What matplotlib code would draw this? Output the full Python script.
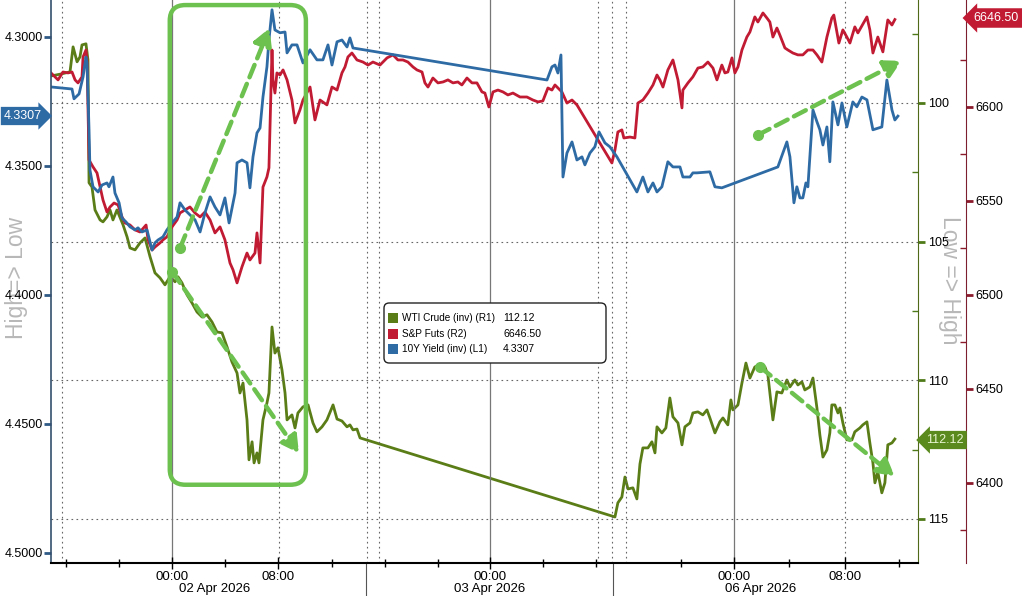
import matplotlib.pyplot as plt
from matplotlib.patches import FancyBboxPatch, Rectangle
from matplotlib.ticker import FixedLocator, FormatStrFormatter
import matplotlib.transforms as mtransforms
from matplotlib import font_manager

# x values are trading hours from 02 Apr 2026 00:00 (gaps compressed)
yld_h = [-9.10, -7.52, -7.37, -6.99, -6.69, -6.47, -6.39, -6.24, -6.17, -5.94, -5.56, -5.26, -4.89, -4.74, -4.44,
         -4.29, -3.98, -3.76, -3.46, -3.16, -2.78, -2.56, -2.26, -1.88, -1.50, -1.28, -1.05, -0.68, -0.38, 0.0,
         0.38, 0.60, 0.98, 1.35, 1.73, 2.11, 2.48, 2.86, 3.23, 3.61, 3.98, 4.29, 4.74, 4.89, 5.26, 5.64, 5.86,
         6.09, 6.39, 6.62, 6.84, 7.14, 7.29, 7.52, 7.74, 8.12, 8.50, 8.65, 9.02, 9.40, 9.85, 10.38, 10.90, 11.35,
         11.73, 12.03, 12.41, 12.78, 13.16, 13.38, 13.61, 28.20, 28.57, 28.80, 29.02, 29.25, 29.40, 29.70, 30.08,
         30.45, 30.83, 31.05, 31.43, 31.80, 32.11, 32.56, 32.93, 33.46, 34.96, 35.41, 35.79, 36.17, 36.47, 36.84,
         37.29, 37.67, 38.20, 38.42, 38.95, 39.17, 39.47, 40.45, 40.83, 41.35, 45.56, 46.24, 46.47, 46.77, 46.99,
         47.22, 47.44, 47.67, 47.82, 48.20, 48.50, 48.72, 48.95, 49.25, 49.47, 49.70, 50.08, 50.38, 50.75, 51.20,
         51.50, 51.88, 52.26, 52.71, 53.38, 53.76, 54.14, 54.36, 54.59]
yld = [4.3194, 4.3202, 4.3240, 4.3221, 4.3155, 4.3078, 4.3101, 4.3360, 4.3516, 4.3581, 4.3601, 4.3574, 4.3566,
       4.3581, 4.3543, 4.3605, 4.3643, 4.3702, 4.3717, 4.3736, 4.3748, 4.3740, 4.3756, 4.3748, 4.3826, 4.3798,
       4.3787, 4.3775, 4.3748, 4.3721, 4.3698, 4.3643, 4.3671, 4.3690, 4.3709, 4.3756, 4.3682, 4.3620, 4.3659,
       4.3690, 4.3624, 4.3721, 4.3605, 4.3488, 4.3477, 4.3488, 4.3585, 4.3465, 4.3372, 4.3353, 4.3233, 4.3116,
       4.3012, 4.2895, 4.2973, 4.2984, 4.2981, 4.3062, 4.3031, 4.3031, 4.3101, 4.3050, 4.3089, 4.3089, 4.3031,
       4.3109, 4.3019, 4.3012, 4.3039, 4.3004, 4.3043, 4.3167, 4.3116, 4.3109, 4.3140, 4.3070, 4.3543, 4.3450,
       4.3407, 4.3477, 4.3465, 4.3496, 4.3450, 4.3426, 4.3368, 4.3411, 4.3426, 4.3465, 4.3601, 4.3543, 4.3601,
       4.3566, 4.3601, 4.3581, 4.3484, 4.3504, 4.3504, 4.3543, 4.3543, 4.3527, 4.3527, 4.3523, 4.3581, 4.3585,
       4.3504, 4.3407, 4.3465, 4.3643, 4.3581, 4.3624, 4.3624, 4.3566, 4.3581, 4.3283, 4.3329, 4.3360, 4.3419,
       4.3349, 4.3484, 4.3252, 4.3341, 4.3256, 4.3349, 4.3252, 4.3271, 4.3233, 4.3244, 4.3360, 4.3349, 4.3167,
       4.3283, 4.3322, 4.3307]

spx_h = [-9.10, -8.80, -8.57, -8.20, -7.82, -7.52, -7.29, -7.07, -6.77, -6.69, -6.47, -6.39, -6.24, -5.94, -5.64,
         -5.41, -5.19, -4.89, -4.66, -4.36, -4.06, -3.76, -3.53, -3.16, -2.78, -2.41, -1.95, -1.80, -1.50, -1.28,
         -0.90, -0.68, -0.38, 0.0, 0.38, 0.60, 0.98, 1.35, 1.73, 2.11, 2.48, 2.86, 3.23, 3.61, 3.98, 4.36, 4.59,
         4.89, 5.26, 5.64, 5.86, 6.24, 6.39, 6.62, 6.84, 7.14, 7.29, 7.52, 7.59, 7.74, 7.89, 8.12, 8.35, 8.65,
         9.02, 9.25, 9.62, 9.85, 10.38, 10.75, 11.13, 11.65, 12.03, 12.41, 12.78, 13.01, 13.23, 13.53, 13.91,
         14.36, 14.74, 15.11, 15.64, 16.17, 16.62, 16.99, 17.37, 17.74, 18.12, 18.42, 18.80, 19.02, 19.25, 19.62,
         20.00, 20.38, 20.75, 21.13, 21.50, 21.80, 22.18, 22.56, 22.93, 23.31, 23.53, 23.83, 24.14, 24.51, 24.89,
         25.26, 25.64, 26.17, 26.69, 27.14, 27.52, 27.89, 28.27, 28.57, 28.80, 29.02, 29.32, 29.70, 30.08, 30.45,
         33.08, 33.31, 33.53, 33.83, 33.98, 34.44, 34.81, 35.04, 35.41, 35.79, 36.17, 36.47, 36.69, 36.92, 37.29,
         37.67, 38.05, 38.35, 38.42, 38.80, 39.17, 39.55, 39.92, 40.30, 40.68, 40.98, 41.35, 41.58, 41.80, 42.11,
         42.33, 42.56, 42.86, 43.23, 43.46, 43.83, 44.06, 44.44, 44.74, 44.96, 45.19, 45.49, 45.71, 46.09, 46.32,
         46.69, 47.07, 47.44, 47.82, 48.20, 48.50, 48.87, 49.25, 49.62, 49.77, 50.00, 50.15, 50.45, 50.75, 50.98,
         51.35, 51.58, 52.26, 52.48, 52.71, 53.08, 53.46, 53.83, 54.14, 54.36]
spx = [6618.1, 6616.0, 6614.4, 6618.6, 6618.1, 6618.6, 6614.4, 6612.8, 6616.0, 6626.6, 6630.3, 6625.0, 6571.8,
       6568.1, 6564.9, 6557.4, 6550.5, 6544.1, 6546.8, 6548.9, 6547.9, 6541.5, 6538.3, 6537.2, 6534.6, 6533.5,
       6537.2, 6529.3, 6523.9, 6525.5, 6527.7, 6529.3, 6530.9, 6536.2, 6539.9, 6543.6, 6545.2, 6546.8, 6543.6,
       6541.5, 6544.1, 6539.9, 6533.0, 6536.2, 6529.3, 6517.0, 6513.3, 6506.4, 6514.9, 6522.3, 6518.6, 6522.3,
       6533.0, 6517.0, 6557.4, 6562.8, 6567.6, 6630.3, 6614.4, 6607.4, 6618.1, 6617.0, 6619.7, 6614.4, 6603.7,
       6591.5, 6598.4, 6603.7, 6610.6, 6593.1, 6603.7, 6601.1, 6610.6, 6609.0, 6618.1, 6621.3, 6626.6, 6628.7,
       6625.0, 6623.9, 6622.3, 6623.9, 6622.3, 6626.1, 6627.7, 6625.0, 6625.0, 6623.9, 6621.3, 6619.7, 6618.6,
       6612.8, 6610.6, 6615.4, 6612.8, 6613.3, 6614.4, 6612.8, 6613.3, 6611.7, 6615.4, 6612.8, 6612.8, 6608.0,
       6607.4, 6600.0, 6608.0, 6609.0, 6608.0, 6606.4, 6607.4, 6605.3, 6605.3, 6603.7, 6602.7, 6603.2, 6610.1,
       6609.0, 6611.7, 6610.1, 6608.0, 6602.1, 6603.7, 6601.1, 6570.2, 6577.1, 6586.7, 6587.8, 6583.5, 6584.0,
       6583.5, 6602.1, 6603.7, 6607.4, 6611.7, 6617.0, 6614.4, 6610.6, 6619.7, 6625.0, 6614.4, 6599.5, 6609.0,
       6612.8, 6616.0, 6620.7, 6621.3, 6623.9, 6620.7, 6614.4, 6622.3, 6618.1, 6618.6, 6626.1, 6618.1, 6621.3,
       6630.3, 6637.2, 6639.9, 6647.9, 6645.2, 6650.0, 6647.3, 6645.2, 6637.2, 6642.0, 6638.3, 6631.4, 6630.3,
       6628.7, 6627.7, 6627.7, 6630.3, 6630.3, 6627.7, 6623.9, 6637.2, 6647.3, 6648.9, 6639.9, 6634.0, 6641.0,
       6637.2, 6634.0, 6642.6, 6639.4, 6647.9, 6641.0, 6628.7, 6637.2, 6629.3, 6646.3, 6643.6, 6646.5]

wti_h = [-9.10, -8.27, -7.67, -7.44, -7.14, -6.92, -6.77, -6.47, -6.32, -6.24, -6.02, -5.79, -5.41, -5.19, -4.89,
         -4.66, -4.44, -4.14, -3.68, -3.38, -3.16, -2.78, -2.41, -2.03, -1.65, -1.28, -0.90, -0.53, -0.15, 0.23,
         0.45, 0.75, 1.13, 1.50, 1.88, 2.26, 2.63, 3.01, 3.38, 3.76, 4.14, 4.51, 4.89, 5.11, 5.34, 5.64, 5.79,
         6.02, 6.17, 6.39, 6.54, 6.84, 7.14, 7.29, 7.52, 7.74, 7.97, 8.27, 8.50, 8.65, 9.02, 9.25, 9.47, 9.85,
         10.23, 10.60, 10.90, 11.28, 11.65, 12.11, 12.41, 12.78, 13.16, 13.38, 13.61, 13.91, 14.14, 33.31, 33.53,
         33.83, 34.06, 34.29, 34.66, 34.96, 35.19, 35.41, 35.79, 36.09, 36.32, 36.47, 36.84, 37.14, 37.44, 37.67,
         38.05, 38.35, 38.57, 38.95, 39.17, 39.55, 39.92, 40.23, 40.45, 40.83, 41.20, 41.43, 41.80, 42.03, 42.18,
         42.56, 42.86, 43.16, 43.46, 43.83, 44.21, 44.59, 44.81, 45.19, 45.49, 45.86, 46.24, 46.47, 46.84, 47.07,
         47.37, 47.59, 47.97, 48.20, 48.50, 48.72, 48.95, 49.25, 49.47, 49.62, 49.85, 50.08, 50.23, 50.45, 50.75,
         51.13, 51.35, 51.73, 51.95, 52.26, 52.48, 52.71, 52.86, 53.08, 53.38, 53.61, 53.83, 54.14, 54.36]
wti = [99.03, 98.95, 98.88, 97.98, 98.52, 98.34, 97.91, 97.87, 98.45, 102.88, 103.03, 103.86, 104.22, 104.29,
       104.11, 103.86, 104.22, 103.86, 104.40, 104.83, 105.23, 105.30, 105.05, 104.87, 105.55, 106.13, 106.31,
       106.56, 106.27, 106.45, 106.27, 106.49, 106.92, 107.21, 107.54, 107.72, 107.64, 107.90, 108.26, 108.29,
       108.80, 109.34, 109.74, 110.46, 110.10, 111.43, 112.87, 112.22, 112.98, 112.62, 112.98, 111.43, 110.82,
       110.46, 108.08, 109.02, 108.83, 109.63, 110.46, 111.43, 111.25, 111.72, 111.18, 110.96, 110.89, 111.54,
       111.86, 111.68, 111.43, 110.89, 111.40, 111.47, 111.68, 111.61, 111.79, 111.76, 112.08, 114.93, 114.42,
       114.21, 113.49, 113.92, 113.88, 114.28, 113.02, 112.44, 112.44, 112.22, 112.62, 111.68, 111.90, 111.72,
       110.64, 111.32, 111.54, 112.33, 111.68, 111.54, 111.18, 111.14, 111.25, 111.07, 111.36, 111.90, 111.50,
       111.36, 111.61, 110.71, 111.07, 110.89, 110.10, 109.38, 109.92, 109.52, 109.45, 109.52, 109.81, 111.43,
       110.42, 110.46, 109.99, 110.24, 109.99, 110.17, 110.06, 110.35, 110.24, 109.92, 111.00, 111.97, 112.77,
       112.51, 111.90, 110.89, 110.89, 111.18, 111.00, 111.54, 112.15, 112.15, 111.86, 111.72, 111.61, 111.50,
       112.26, 112.98, 113.70, 113.31, 114.06, 113.70, 112.33, 112.26, 112.12]

names = ["WTI Crude (inv) (R1)", "S&P Futs (R2)", "10Y Yield (inv) (L1)"]
last = ["112.12", "6646.50", "4.3307"]

day_starts = [0.0, 23.9, 42.3]
session_marks = [-8.27, 8.05, 14.66, 15.56, 32.03, 33.08, 34.14, 50.6]
major_x = [0.0, 8.0, 23.9, 42.3, 50.6]
major_lbl = ["00:00", "08:00", "00:00", "00:00", "08:00"]
minor_x = [-8, -4, 4, 12, 16, 20, 27.9, 31.9, 38.3, 46.4, 54.7]
dates = ["02 Apr 2026", "03 Apr 2026", "06 Apr 2026"]
date_x = [3.23, 23.9, 44.3]
date_seps = [14.6, 33.2]

C_WTI = "#5b7d17"
C_SPX = "#c11a33"
C_YLD = "#2e6ba5"
C_ANN = "#6cc14f"

installed = {f.name for f in font_manager.fontManager.ttflist}
base = "Liberation Sans" if "Liberation Sans" in installed else "DejaVu Sans"
narrow = ["Liberation Sans Narrow", base] if "Liberation Sans Narrow" in installed else [base]
plt.rcParams["font.family"] = [base, "DejaVu Sans"]

fig = plt.figure(figsize=(10.22, 5.96), dpi=100)
ax = fig.add_axes([51/1022, 33/596, 867/1022, 563/596])
axw = ax.twinx()
axs = ax.twinx()
axw.set_zorder(1)
axs.set_zorder(2)
ax.set_zorder(3)
ax.patch.set_visible(False)
axs.patch.set_visible(False)

axw.plot(wti_h, wti, color=C_WTI, lw=2.0)
axs.plot(spx_h, spx, color=C_SPX, lw=2.0)
ax.plot(yld_h, yld, color=C_YLD, lw=2.0)

ax.set_xlim(-9.1, 56.1)
ax.set_ylim(4.5039, 4.2857)
axw.set_ylim(116.59, 96.29)
axs.set_ylim(6357.4, 6656.9)

# grid
for v in [100, 105, 110, 115]:
    axw.axhline(v, color="#666666", ls=(0, (1.5, 3)), lw=0.8)
for h in session_marks:
    axw.axvline(h, color="#666666", ls=(0, (1.5, 3)), lw=0.8)
for h in day_starts:
    axw.axvline(h, color="#777777", lw=0.9)

# spines
for a in (ax, axw, axs):
    a.spines["top"].set_visible(False)
ax.spines["right"].set_visible(False)
ax.spines["left"].set_color("#35506e")
ax.spines["left"].set_linewidth(1.2)
ax.spines["bottom"].set_color("black")
ax.spines["bottom"].set_linewidth(1.5)
for a in (axw, axs):
    a.spines["left"].set_visible(False)
    a.spines["bottom"].set_visible(False)
axw.spines["right"].set_color("#4f6b1a")
axs.spines["right"].set_color("#7d1f2e")
axs.spines["right"].set_position(("outward", 34.6))

# y ticks
ax.set_yticks([4.30, 4.35, 4.40, 4.45, 4.50])
ax.yaxis.set_major_formatter(FormatStrFormatter("%.4f"))
ax.tick_params(axis="y", length=5, width=2, color="#2f5a86", labelsize=9, pad=1)
axw.set_yticks([100, 105, 110, 115])
axw.yaxis.set_minor_locator(FixedLocator([97.5, 102.5, 107.5, 112.5]))
axw.tick_params(axis="y", which="major", length=5, width=2, color="#4f7a1a", labelsize=9, pad=2)
axw.tick_params(axis="y", which="minor", direction="in", length=4, width=1, color="#4f7a1a")
axs.set_yticks([6400, 6450, 6500, 6550, 6600])
axs.yaxis.set_minor_locator(FixedLocator([6375, 6425, 6475, 6525, 6575, 6625]))
axs.tick_params(axis="y", which="major", length=5, width=2, color="#8b1a2b", labelsize=9, pad=2)
axs.tick_params(axis="y", which="minor", direction="in", length=4, width=1, color="#8b1a2b")

# x ticks
ax.set_xticks(major_x)
ax.set_xticklabels(major_lbl, family=narrow, fontsize=9.5)
ax.xaxis.set_minor_locator(FixedLocator(minor_x))
ax.tick_params(axis="x", which="major", direction="inout", length=8, width=1, pad=2)
ax.tick_params(axis="x", which="minor", direction="inout", length=6, width=1)
trans = mtransforms.blended_transform_factory(ax.transData, ax.transAxes)
for d, x in zip(dates, date_x):
    ax.text(x, -0.047, d, transform=trans, ha="center", va="center", fontsize=9.5, family=narrow)
for x in date_seps:
    ax.plot([x, x], [0, -0.06], transform=trans, color="#555555", lw=0.8, clip_on=False)

# axis titles (they overlap the tick labels in the original too)
fig.text(17/1022, 1 - 278/596, "High=> Low", rotation=90, ha="center", va="center", color="#b8b8b8",
         fontsize=16.5, zorder=0)
fig.text(949/1022, 1 - 280/596, "Low => High", rotation=270, ha="center", va="center", color="#b8b8b8",
         fontsize=16.5, zorder=0)

# last value tags
fig.text(23/1022, 1 - 116/596, last[2], ha="center", va="center", color="white", fontsize=9,
         bbox=dict(boxstyle="rarrow,pad=0.25", fc=C_YLD, ec="none"))
fig.text(996/1022, 1 - 18/596, last[1], ha="center", va="center", color="white", fontsize=9,
         bbox=dict(boxstyle="larrow,pad=0.3", fc=C_SPX, ec="none"))
fig.text(945/1022, 1 - 440/596, last[0], ha="center", va="center", color="#e8f5d0", fontsize=9,
         bbox=dict(boxstyle="larrow,pad=0.25", fc="#5a8a1e", ec="none"))

# annotations: box and dashed arrows
box = FancyBboxPatch((0.137, 0.139), 0.157, 0.852, transform=ax.transAxes,
                     boxstyle="round,pad=0,rounding_size=0.018", mutation_aspect=867/563,
                     fc="none", ec=C_ANN, lw=3.2, zorder=9, clip_on=False)
ax.add_patch(box)

arrows = [((0.149, 0.560), (0.252, 0.950)),
          ((0.140, 0.517), (0.286, 0.195)),
          ((0.815, 0.760), (0.981, 0.892)),
          ((0.818, 0.348), (0.973, 0.154))]
for p0, p1 in arrows:
    ax.annotate("", xy=p1, xytext=p0, xycoords="axes fraction", textcoords="axes fraction",
                arrowprops=dict(arrowstyle="-|>,head_length=1.0,head_width=0.55", color=C_ANN,
                                lw=3.2, ls=(0, (3, 1.6)), shrinkA=0, shrinkB=0), zorder=10)
    ax.plot([p0[0]], [p0[1]], "o", color=C_ANN, ms=7, transform=ax.transAxes, zorder=10, clip_on=False)

# legend
lx0, ly0 = (384 - 51) / 867, (563 - 363) / 563
lg = FancyBboxPatch((lx0, ly0), 222/867, 60/563, transform=ax.transAxes,
                    boxstyle="round,pad=0,rounding_size=0.006", mutation_aspect=867/563,
                    fc="white", ec="#222222", lw=1.0, zorder=11)
ax.add_patch(lg)
cols = [C_WTI, C_SPX, C_YLD]
rows_y = [318, 334, 349]
for name, val, c, ry in zip(names, last, cols, rows_y):
    yf = (563 - ry) / 563
    ax.add_patch(Rectangle(((388 - 51) / 867, yf - 5/563), 10/867, 10/563, transform=ax.transAxes,
                           fc=c, ec="none", zorder=12))
    ax.text((402 - 51) / 867, yf, name, transform=ax.transAxes, va="center", ha="left",
            fontsize=7.2, zorder=12)
    ax.text((503 - 51) / 867, yf, val, transform=ax.transAxes, va="center", ha="left",
            fontsize=7.6, zorder=12)

fig.savefig("out.png", dpi=100, facecolor="white")
